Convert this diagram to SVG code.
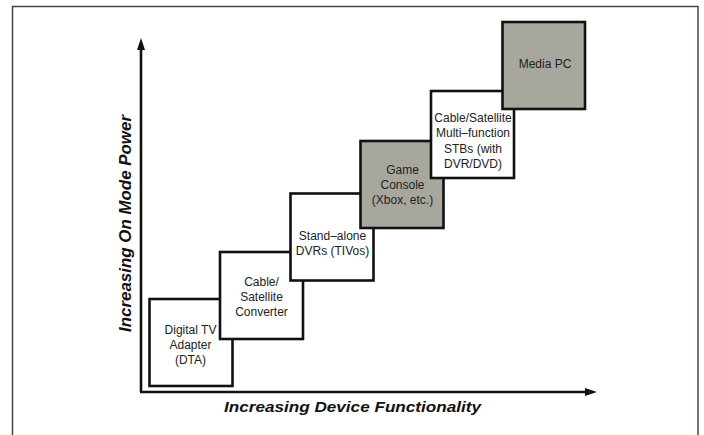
<svg xmlns="http://www.w3.org/2000/svg" width="704" height="435" viewBox="0 0 704 435">
<defs>
<marker id="arr" viewBox="0 0 12 8" refX="0" refY="4" markerWidth="12" markerHeight="8" markerUnits="userSpaceOnUse" orient="auto">
<path d="M0,0 L12,4 L0,8 z" fill="#111"/>
</marker>
<style>
.box{stroke:#111;stroke-width:2.6;}
.w{fill:#fff;}
.g{fill:#a8a79d;}
.t{font-family:"Liberation Sans",Arial,sans-serif;font-size:12px;fill:#222;text-anchor:middle;}
.ax{font-family:"Liberation Sans",Arial,sans-serif;font-weight:bold;font-style:italic;fill:#111;}
.axis{stroke:#111;stroke-width:2.6;fill:none;}
</style>
</defs>
<rect x="0" y="0" width="704" height="435" fill="#fff"/>
<path d="M12.5,435 V6.5 H698 V435" fill="none" stroke="#4a4538" stroke-width="1.5"/>

<g id="axes">
<line class="axis" x1="141" y1="392" x2="141" y2="50" marker-end="url(#arr)"/>
<line class="axis" x1="140" y1="392" x2="585" y2="392" marker-end="url(#arr)"/>
</g>

<text class="ax" x="224" y="412" font-size="15" textLength="257" lengthAdjust="spacingAndGlyphs">Increasing Device Functionality</text>
<text class="ax" transform="translate(131,332) rotate(-90)" x="0" y="0" font-size="16.5" textLength="217" lengthAdjust="spacingAndGlyphs">Increasing On Mode Power</text>

<g id="dta">
<rect class="box w" x="149.5" y="299" width="83" height="87"/>
<text class="t" x="190.5" y="333.5">Digital TV</text>
<text class="t" x="190.5" y="348.5">Adapter</text>
<text class="t" x="190.5" y="363.5">(DTA)</text>
</g>
<g id="converter">
<rect class="box w" x="220" y="252" width="83" height="87"/>
<text class="t" x="261.5" y="285.5">Cable/</text>
<text class="t" x="261.5" y="300.5">Satellite</text>
<text class="t" x="261.5" y="315.5">Converter</text>
</g>
<g id="dvr">
<rect class="box w" x="290.5" y="193.5" width="83" height="87"/>
<text class="t" x="332.5" y="240">Stand–alone</text>
<text class="t" x="332.5" y="255">DVRs (TIVos)</text>
</g>
<g id="console">
<rect class="box g" x="360.5" y="141" width="83" height="87"/>
<text class="t" x="402.5" y="173.5">Game</text>
<text class="t" x="402.5" y="188.5">Console</text>
<text class="t" x="402.5" y="204">(Xbox, etc.)</text>
</g>
<g id="stb">
<rect class="box w" x="431" y="91" width="83" height="87"/>
<text class="t" x="473" y="122">Cable/Satellite</text>
<text class="t" x="473" y="137.3">Multi–function</text>
<text class="t" x="473" y="152.5">STBs (with</text>
<text class="t" x="473" y="167.7">DVR/DVD)</text>
</g>
<g id="mediapc">
<rect class="box g" x="502.5" y="22" width="82.5" height="87"/>
<text class="t" x="545" y="67.5">Media PC</text>
</g>
</svg>
